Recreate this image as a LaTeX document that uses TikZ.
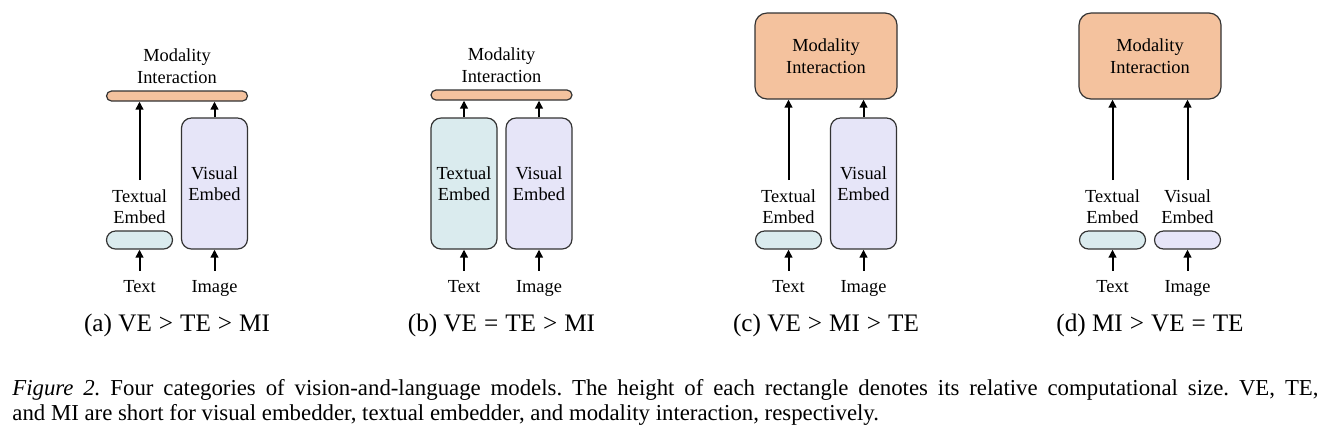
\documentclass[tikz,border=0pt]{standalone}
\usepackage{fontspec}
\setmainfont{Liberation Serif}
\usetikzlibrary{arrows.meta,positioning}
\definecolor{miorange}{RGB}{244,194,158}
\definecolor{tecyan}{RGB}{218,235,238}
\definecolor{velav}{RGB}{230,229,248}
\newcommand{\boxfont}{\fontsize{9.2}{10.8}\selectfont}
\newcommand{\subfont}{\fontsize{12.6}{14}\selectfont}
\newcommand{\capfont}{\fontsize{11.4}{12.5}\selectfont}
\frenchspacing

\begin{document}
\begin{tikzpicture}[x=0.5pt,y=-0.5pt,
  bx/.style={draw=black!80,line width=0.6pt,inner sep=0pt,align=center,font=\boxfont},
  mibar/.style={bx,fill=miorange,minimum width=70.5pt,minimum height=5pt,rounded corners=2.5pt},
  mibox/.style={bx,fill=miorange,minimum width=71pt,minimum height=43pt,rounded corners=6pt},
  tall/.style={bx,minimum width=33pt,minimum height=65.5pt,rounded corners=5pt},
  flat/.style={bx,minimum width=33pt,minimum height=9pt,rounded corners=4.5pt},
  lbl/.style={font=\boxfont,align=center,inner xsep=0pt,inner ysep=4.5pt},
  btm/.style={font=\boxfont,text height=6.5pt,text depth=2pt,inner ysep=4pt},
  up/.style={-{Triangle[length=4pt,width=3.8pt]},line width=1pt}]
\useasboundingbox (0,0) rectangle (1331,447);
% (a)
\def\cx{177}
\node[mibar] (mi-a) at (\cx,96) {};
\node[font=\boxfont,align=center] (ttl-a) at (\cx,66) {Modality\\Interaction};
\node[tall,fill=velav] (ve-a) at (\cx+37.5,183.5) {Visual\\Embed};
\node[flat,fill=tecyan] (te-a) at (\cx-37.5,240) {};
\node[lbl,anchor=north] (tl-a) at (\cx-37.5,180) {Textual\\Embed};
\draw[up] (tl-a.north) -- (tl-a.north |- mi-a.south);
\draw[up] (ve-a.north) -- (ve-a.north |- mi-a.south);
% (b)
\def\cx{501.5}
\node[mibar] (mi-b) at (\cx,95) {};
\node[font=\boxfont,align=center] (ttl-b) at (\cx,65) {Modality\\Interaction};
\node[tall,fill=tecyan] (te-b) at (\cx-37.5,183.5) {Textual\\Embed};
\node[tall,fill=velav] (ve-b) at (\cx+37.5,183.5) {Visual\\Embed};
\draw[up] (te-b.north) -- (te-b.north |- mi-b.south);
\draw[up] (ve-b.north) -- (ve-b.north |- mi-b.south);
% (c)
\def\cx{826}
\node[mibox] (mi-c) at (\cx,56) {Modality\\Interaction};
\node[tall,fill=velav] (ve-c) at (\cx+37.5,183.5) {Visual\\Embed};
\node[flat,fill=tecyan] (te-c) at (\cx-37.5,240) {};
\node[lbl,anchor=north] (tl-c) at (\cx-37.5,180) {Textual\\Embed};
\draw[up] (tl-c.north) -- (tl-c.north |- mi-c.south);
\draw[up] (ve-c.north) -- (ve-c.north |- mi-c.south);
% (d)
\def\cx{1150}
\node[mibox] (mi-d) at (\cx,56) {Modality\\Interaction};
\node[flat,fill=tecyan] (te-d) at (\cx-37.5,240) {};
\node[flat,fill=velav] (ve-d) at (\cx+37.5,240) {};
\node[lbl,anchor=north] (tl-d) at (\cx-37.5,180) {Textual\\Embed};
\node[lbl,anchor=north] (vl-d) at (\cx+37.5,180) {Visual\\Embed};
\draw[up] (tl-d.north) -- (tl-d.north |- mi-d.south);
\draw[up] (vl-d.north) -- (vl-d.north |- mi-d.south);
% inputs and sub-captions
\foreach \p/\cx/\sub in {a/177/{(a) VE\;>\;TE\;>\;MI},b/501.5/{(b) VE\;=\;TE\;>\;MI},
    c/826/{(c) VE\;>\;MI\;>\;TE},d/1150/{(d) MI\;>\;VE\;=\;TE}}{
  \node[btm,anchor=base] (txt-\p) at (\cx-37.5,292) {Text};
  \node[btm,anchor=base] (img-\p) at (\cx+37.5,292) {Image};
  \draw[up] (txt-\p.north) -- (te-\p.south);
  \draw[up] (img-\p.north) -- (ve-\p.south);
  \node[font=\subfont] (sub-\p) at (\cx,325) {\sub};
}
% caption
\node[anchor=base west,inner sep=0pt,font=\capfont] (cap1) at (12,395.5)
  {\makebox[653pt][s]{\textit{Figure 2.} Four categories of vision-and-language models. The height of each rectangle denotes its relative computational size. VE, TE,}};
\node[anchor=base west,inner sep=0pt,font=\capfont] (cap2) at (12,420.5)
  {and MI are short for visual embedder, textual embedder, and modality interaction, respectively.};
\end{tikzpicture}
\end{document}
